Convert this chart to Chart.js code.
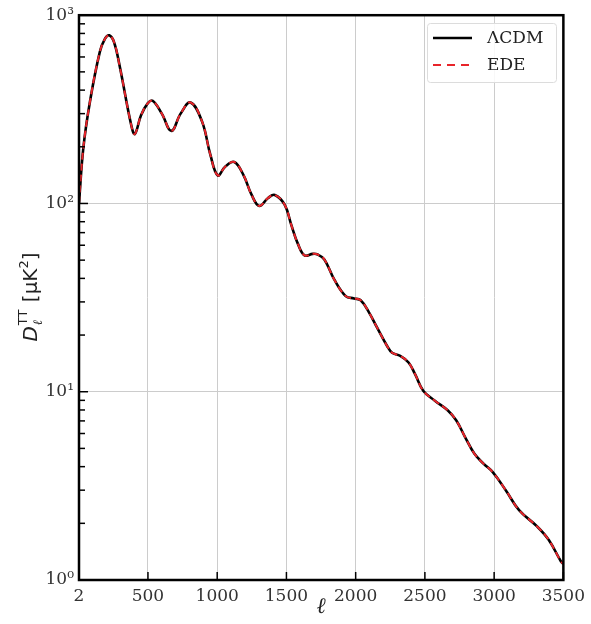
<!DOCTYPE html>
<html>
<head>
<meta charset="utf-8">
<script src="https://cdn.jsdelivr.net/npm/chart.js@4.4.1/dist/chart.umd.min.js"></script>
<style>
  html, body { margin: 0; padding: 0; background: #fff; }
  #wrap { width: 591px; height: 624px; }
</style>
</head>
<body>
<div id="wrap"><canvas id="chart" width="591" height="624"></canvas></div>
<script>
// multipole values and TT band powers (muK^2)
const ells = [2, 33, 81, 152, 190, 220, 255, 295, 379, 405, 450, 498, 534, 600, 669, 736, 808, 891, 951, 1004, 1059, 1123, 1189, 1249, 1304, 1368, 1416, 1487, 1535, 1583, 1631, 1690, 1726, 1774, 1845, 1928, 1988, 2036, 2095, 2155, 2227, 2263, 2322, 2382, 2429, 2489, 2572, 2668, 2727, 2791, 2858, 2925, 2990, 3085, 3180, 3312, 3395, 3484, 3500];
const lcdmDl = [100, 196, 347, 637, 750, 782, 720, 540, 261, 234, 294, 340, 351, 300, 243, 300, 344, 272, 181, 141, 157, 166, 142, 111, 97, 107, 111, 98.5, 77, 61, 53, 54, 53.6, 50.4, 39.5, 32.2, 31.3, 30.6, 26.5, 21.9, 17.5, 16.1, 15.5, 14.3, 12.4, 10.1, 8.96, 7.93, 7.03, 5.73, 4.68, 4.14, 3.74, 2.99, 2.35, 1.92, 1.63, 1.25, 1.22];
const edeDl = [100, 196, 347, 637, 750, 782, 720, 540, 261, 234, 294, 340, 351, 300, 243, 300, 344, 272, 181, 141, 157, 166, 142, 111, 97, 107, 111, 98.5, 77, 61, 53, 54, 53.6, 50.4, 39.5, 32.2, 31.3, 30.6, 26.5, 21.9, 17.5, 16.1, 15.5, 14.3, 12.4, 10.1, 8.96, 7.93, 7.03, 5.73, 4.68, 4.14, 3.74, 2.99, 2.35, 1.92, 1.63, 1.25, 1.22];

const xTicks = [2, 500, 1000, 1500, 2000, 2500, 3000, 3500];
const yTicks = [1, 10, 100, 1000];
const supDigits = ['\u2070', '\u00b9', '\u00b2', '\u00b3'];

const serif = '"DejaVu Serif", serif';
const sans = '"DejaVu Sans", sans-serif';

function toPoints(xs, ys) {
    return xs.map((x, i) => ({ x: x, y: ys[i] }));
}

// draws D_l^TT [muK^2] rotated along the left edge
function drawYTitle(ctx) {
    ctx.save();
    ctx.translate(37, 297);
    ctx.rotate(-Math.PI / 2);
    ctx.textBaseline = 'alphabetic';
    ctx.textAlign = 'left';
    ctx.fillStyle = '#222';

    const big = '20px ' + sans;
    const small = '13px ' + sans;
    ctx.font = 'italic ' + big;
    const wD = ctx.measureText('D').width;
    ctx.font = small;
    const wTT = ctx.measureText('TT').width;
    ctx.font = big;
    const wRest = ctx.measureText(' [\u03bcK').width;
    ctx.font = small;
    const w2 = ctx.measureText('2').width;
    ctx.font = big;
    const wB = ctx.measureText(']').width;

    let x = -(wD + wTT + 2 + wRest + w2 + wB) / 2;
    ctx.font = 'italic ' + big;
    ctx.fillText('D', x, 0);
    x += wD + 1;
    ctx.font = 'italic 13px ' + serif;
    ctx.fillText('\u2113', x, 5);
    ctx.font = small;
    ctx.fillText('TT', x, -10);
    x += wTT + 1;
    ctx.font = big;
    ctx.fillText(' [\u03bcK', x, 0);
    x += wRest;
    ctx.font = small;
    ctx.fillText('2', x, -9);
    x += w2;
    ctx.font = big;
    ctx.fillText(']', x, 0);
    ctx.restore();
}

function drawLegend(ctx) {
    ctx.save();
    const bx = 427, by = 23, bw = 129, bh = 59;
    ctx.fillStyle = 'rgba(255,255,255,0.85)';
    ctx.strokeStyle = '#dcdcdc';
    ctx.lineWidth = 1;
    ctx.beginPath();
    ctx.roundRect(bx + 0.5, by + 0.5, bw, bh, 3);
    ctx.fill();
    ctx.stroke();

    ctx.font = '17px ' + serif;
    ctx.textBaseline = 'middle';
    ctx.fillStyle = '#222';

    ctx.strokeStyle = '#000';
    ctx.lineWidth = 2.4;
    ctx.beginPath();
    ctx.moveTo(433, 38);
    ctx.lineTo(472, 38);
    ctx.stroke();
    ctx.fillText('\u039bCDM', 487, 39);

    ctx.strokeStyle = '#e8242a';
    ctx.lineWidth = 2;
    ctx.setLineDash([8, 6]);
    ctx.beginPath();
    ctx.moveTo(433, 65);
    ctx.lineTo(472, 65);
    ctx.stroke();
    ctx.setLineDash([]);
    ctx.fillText('EDE', 487, 66);
    ctx.restore();
}

// frame, inward ticks, y title and legend box
const framePlugin = {
    id: 'frame',
    afterDatasetsDraw(chart) {
        const { ctx, chartArea: a, scales } = chart;
        const xs = scales.x, ys = scales.y;
        ctx.save();
        ctx.strokeStyle = '#000';

        // major + minor ticks on the left axis
        ctx.lineWidth = 1.5;
        for (let d = 0; d < 3; d++) {
            for (let k = 1; k < 10; k++) {
                const py = ys.getPixelForValue(k * Math.pow(10, d));
                const len = k === 1 ? 9 : 6;
                ctx.beginPath();
                ctx.moveTo(a.left, py);
                ctx.lineTo(a.left + len, py);
                ctx.stroke();
            }
        }
        // major ticks on the bottom axis
        xTicks.forEach(v => {
            const px = xs.getPixelForValue(v);
            ctx.beginPath();
            ctx.moveTo(px, a.bottom);
            ctx.lineTo(px, a.bottom - 8);
            ctx.stroke();
        });

        ctx.lineWidth = 2.5;
        ctx.strokeRect(a.left, a.top, a.right - a.left, a.bottom - a.top);
        ctx.restore();

        drawYTitle(ctx);
        drawLegend(ctx);
    }
};

function setupChart() {
    const ctx = document.getElementById('chart').getContext('2d');
    return new Chart(ctx, {
        type: 'line',
        data: {
            datasets: [
                {
                    // dashed EDE goes first so it lands on top of the solid line
                    label: 'EDE',
                    data: toPoints(ells, edeDl),
                    borderColor: '#e8242a',
                    borderWidth: 2,
                    borderDash: [7, 4],
                    pointRadius: 0,
                    tension: 0.4,
                    fill: false
                },
                {
                    label: '\u039bCDM',
                    data: toPoints(ells, lcdmDl),
                    borderColor: '#000',
                    borderWidth: 2.6,
                    pointRadius: 0,
                    tension: 0.4,
                    fill: false
                }
            ]
        },
        options: {
            responsive: false,
            animation: false,
            layout: { padding: { left: 0, right: 23, top: 13, bottom: 0 } },
            plugins: {
                legend: { display: false },
                tooltip: { enabled: false }
            },
            scales: {
                x: {
                    type: 'linear',
                    min: 2,
                    max: 3500,
                    afterBuildTicks: s => { s.ticks = xTicks.map(v => ({ value: v })); },
                    afterFit: s => { s.height = 44; },
                    grid: { color: '#cccccc', lineWidth: 1, drawTicks: false },
                    border: { display: false },
                    ticks: {
                        padding: 6,
                        maxRotation: 0,
                        autoSkip: false,
                        color: '#333',
                        font: { family: serif, size: 17 },
                        callback: v => String(v)
                    },
                    title: {
                        display: true,
                        text: '\u2113',
                        color: '#222',
                        padding: { top: 0, bottom: 4 },
                        font: { family: serif, size: 22, style: 'italic' }
                    }
                },
                y: {
                    type: 'logarithmic',
                    min: 1,
                    max: 1000,
                    afterBuildTicks: s => { s.ticks = yTicks.map(v => ({ value: v })); },
                    afterFit: s => { s.width = 79; },
                    grid: { color: '#cccccc', lineWidth: 1, drawTicks: false },
                    border: { display: false },
                    ticks: {
                        padding: 5,
                        autoSkip: false,
                        color: '#333',
                        font: { family: serif, size: 17 },
                        callback: v => '10' + supDigits[Math.round(Math.log10(v))]
                    }
                }
            }
        },
        plugins: [framePlugin]
    });
}

let chart;
document.addEventListener('DOMContentLoaded', () => {
    chart = setupChart();
});
</script>
</body>
</html>
